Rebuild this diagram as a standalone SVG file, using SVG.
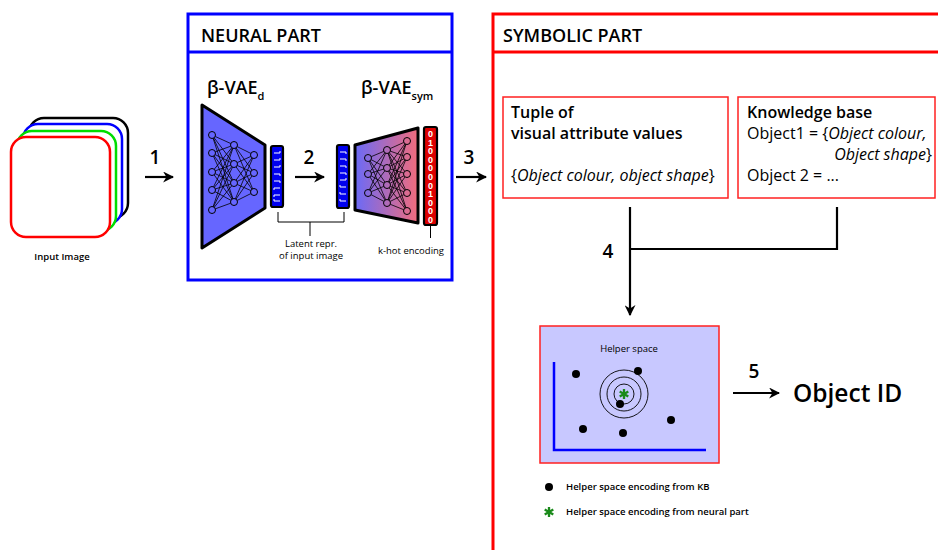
<svg xmlns="http://www.w3.org/2000/svg" width="938" height="550" viewBox="0 0 938 550">
  <defs>
    <style>
      text { font-family: "Open Sans", "Liberation Sans", sans-serif; fill: #000; }
      .hdr { font-size: 18px; font-weight: 600; }
      .step { font-size: 19px; font-weight: 600; text-anchor: middle; }
      .small { font-size: 9.5px; }
      .mid { font-size: 16px; }
      .sb { font-weight: 600; }
      .it { font-style: italic; }
      .vae { font-size: 18px; font-weight: 600; }
      .sub { font-size: 11px; font-weight: 600; }
      .edge { stroke: #000; stroke-width: 0.8; fill: none; }
      .nodeB { fill: #6666ff; stroke: #000; stroke-width: 1; }
      .nodeG { fill: url(#decGrad); stroke: #000; stroke-width: 1; }
      .arrow { stroke: #000; stroke-width: 2.2; fill: none; marker-end: url(#head); }
      .wire { stroke: #000; stroke-width: 2.2; fill: none; }
      .thin { stroke: #000; stroke-width: 1; fill: none; }
      .mark { stroke: #fff; stroke-width: 1; fill: none; }
      .bit { font-size: 9px; font-weight: 700; fill: #fff; text-anchor: middle; font-family: "Liberation Sans", sans-serif; }
      .dot { fill: #000; }
      .ring { stroke: #000; stroke-width: 0.9; fill: none; }
      .star { stroke: #1a8a1a; stroke-width: 2.3; fill: none; stroke-linecap: butt; }
    </style>
    <marker id="head" viewBox="0 0 10 10" refX="9" refY="5" markerWidth="5" markerHeight="5" markerUnits="strokeWidth" orient="auto">
      <path d="M0,0 L10,5 L0,10 L3,5 z" fill="#000"/>
    </marker>
    <linearGradient id="decGrad" gradientUnits="userSpaceOnUse" x1="355" y1="0" x2="418" y2="0">
      <stop offset="0" stop-color="#6a6af8"/>
      <stop offset="1" stop-color="#f26c7c"/>
    </linearGradient>
    <g id="asterisk">
      <path d="M0,-5 V5 M-4.3,-2.5 L4.3,2.5 M-4.3,2.5 L4.3,-2.5"/>
    </g>
  </defs>

  <rect width="938" height="550" fill="#fff"/>

  <!-- input image stack -->
  <g id="input-image">
    <rect x="29" y="118" width="99" height="100" rx="15" fill="#fff" stroke="#000" stroke-width="2.5"/>
    <rect x="23" y="124" width="99" height="100" rx="15" fill="#fff" stroke="#0000ff" stroke-width="2.5"/>
    <rect x="17" y="131" width="99" height="100" rx="15" fill="#fff" stroke="#00dd00" stroke-width="2.5"/>
    <rect x="11" y="137" width="99" height="100" rx="15" fill="#fff" stroke="#ff0000" stroke-width="2.5"/>
    <text x="62" y="260" class="small sb" text-anchor="middle">Input Image</text>
  </g>

  <!-- neural part frame -->
  <g id="neural-part">
    <rect x="188" y="14" width="264" height="266" fill="none" stroke="#0000ff" stroke-width="3"/>
    <line x1="188" y1="52" x2="452" y2="52" stroke="#0000ff" stroke-width="3"/>
    <text x="201" y="42" class="hdr">NEURAL PART</text>
  </g>

  <!-- encoder -->
  <g id="encoder">
    <text x="207" y="94" class="vae">β-VAE<tspan class="sub" dy="6">d</tspan></text>
    <path d="M202,105 L265,145 L265,208 L202,248 Z" fill="#6666ff" stroke="#000" stroke-width="3" stroke-linejoin="round"/>
    <g class="edge">
      <path d="M212,135 L234,145 M212,135 L234,164 M212,135 L234,183 M212,135 L234,202
               M212,153 L234,145 M212,153 L234,164 M212,153 L234,183 M212,153 L234,202
               M212,172 L234,145 M212,172 L234,164 M212,172 L234,183 M212,172 L234,202
               M212,190 L234,145 M212,190 L234,164 M212,190 L234,183 M212,190 L234,202
               M212,210 L234,145 M212,210 L234,164 M212,210 L234,183 M212,210 L234,202
               M234,145 L254,155 M234,145 L254,173 M234,145 L254,192
               M234,164 L254,155 M234,164 L254,173 M234,164 L254,192
               M234,183 L254,155 M234,183 L254,173 M234,183 L254,192
               M234,202 L254,155 M234,202 L254,173 M234,202 L254,192"/>
    </g>
    <circle class="nodeB" cx="212" cy="135" r="3.5"/>
    <circle class="nodeB" cx="212" cy="153" r="3.5"/>
    <circle class="nodeB" cx="212" cy="172" r="3.5"/>
    <circle class="nodeB" cx="212" cy="190" r="3.5"/>
    <circle class="nodeB" cx="212" cy="210" r="3.5"/>
    <circle class="nodeB" cx="234" cy="145" r="3.5"/>
    <circle class="nodeB" cx="234" cy="164" r="3.5"/>
    <circle class="nodeB" cx="234" cy="183" r="3.5"/>
    <circle class="nodeB" cx="234" cy="202" r="3.5"/>
    <circle class="nodeB" cx="254" cy="155" r="3.5"/>
    <circle class="nodeB" cx="254" cy="173" r="3.5"/>
    <circle class="nodeB" cx="254" cy="192" r="3.5"/>
  </g>

  <!-- latent vector (encoder output) -->
  <g id="latent-1">
    <rect x="271" y="146" width="12" height="61" rx="2" fill="#0000ee" stroke="#000" stroke-width="2.2"/>
    <path class="mark" d="M274,153 h6 v-2 M274,160 h6 v-2 M274,167 h6 v-2 M274,174 h6 v2 M274,181 h6 v2 M274,188 h6 M274,188 v2 M274,195 h6 M274,195 v2 M274,201 h6 M274,201 v-2"/>
  </g>

  <!-- latent vector (decoder input) -->
  <g id="latent-2">
    <rect x="337" y="145" width="12" height="63" rx="2" fill="#0000ee" stroke="#000" stroke-width="2.2"/>
    <path class="mark" d="M340,152 h6 v2 M340,159 h6 v2 M340,166 h6 v2 M340,173 h6 v2 M340,180 h6 v-2 M340,187 h6 M340,187 v-2 M340,194 h6 M340,194 v-2 M340,201 h6 M340,201 v-2"/>
  </g>

  <!-- decoder -->
  <g id="decoder">
    <text x="361" y="94" class="vae">β-VAE<tspan class="sub" dy="6">sym</tspan></text>
    <path d="M355,145 L418,128 L418,223 L355,210 Z" fill="url(#decGrad)" stroke="#000" stroke-width="3" stroke-linejoin="round"/>
    <g class="edge">
      <path d="M368,158 L387,150 M368,158 L387,168 M368,158 L387,185 M368,158 L387,203
               M368,174 L387,150 M368,174 L387,168 M368,174 L387,185 M368,174 L387,203
               M368,193 L387,150 M368,193 L387,168 M368,193 L387,185 M368,193 L387,203
               M387,150 L407,141 M387,150 L407,157 M387,150 L407,174 M387,150 L407,193 M387,150 L407,211
               M387,168 L407,141 M387,168 L407,157 M387,168 L407,174 M387,168 L407,193 M387,168 L407,211
               M387,185 L407,141 M387,185 L407,157 M387,185 L407,174 M387,185 L407,193 M387,185 L407,211
               M387,203 L407,141 M387,203 L407,157 M387,203 L407,174 M387,203 L407,193 M387,203 L407,211"/>
    </g>
    <circle class="nodeG" cx="368" cy="158" r="3.5"/>
    <circle class="nodeG" cx="368" cy="174" r="3.5"/>
    <circle class="nodeG" cx="368" cy="193" r="3.5"/>
    <circle class="nodeG" cx="387" cy="150" r="3.5"/>
    <circle class="nodeG" cx="387" cy="168" r="3.5"/>
    <circle class="nodeG" cx="387" cy="185" r="3.5"/>
    <circle class="nodeG" cx="387" cy="203" r="3.5"/>
    <circle class="nodeG" cx="407" cy="141" r="3.5"/>
    <circle class="nodeG" cx="407" cy="157" r="3.5"/>
    <circle class="nodeG" cx="407" cy="174" r="3.5"/>
    <circle class="nodeG" cx="407" cy="193" r="3.5"/>
    <circle class="nodeG" cx="407" cy="211" r="3.5"/>
  </g>

  <!-- k-hot output vector -->
  <g id="k-hot">
    <rect x="424" y="127" width="13" height="98" rx="2" fill="#dd0000" stroke="#000" stroke-width="2.2"/>
    <text class="bit" x="430.5" y="137">0</text>
    <text class="bit" x="430.5" y="145.6">1</text>
    <text class="bit" x="430.5" y="154.2">0</text>
    <text class="bit" x="430.5" y="162.8">0</text>
    <text class="bit" x="430.5" y="171.4">0</text>
    <text class="bit" x="430.5" y="180">0</text>
    <text class="bit" x="430.5" y="188.6">0</text>
    <text class="bit" x="430.5" y="197.2">1</text>
    <text class="bit" x="430.5" y="205.8">0</text>
    <text class="bit" x="430.5" y="214.4">0</text>
    <text class="bit" x="430.5" y="223">0</text>
  </g>

  <!-- symbolic part frame -->
  <g id="symbolic-part">
    <path d="M493,550 V14 H940" fill="none" stroke="#ff0000" stroke-width="3"/>
    <line x1="493" y1="52" x2="940" y2="52" stroke="#ff0000" stroke-width="3"/>
    <text x="503" y="42" class="hdr">SYMBOLIC PART</text>
  </g>

  <g id="tuple">
    <rect x="503" y="97" width="225" height="101" fill="#fff" stroke="#ff2020" stroke-width="1.5"/>
    <text x="511" y="118" class="mid sb">Tuple of</text>
    <text x="511" y="139" class="mid sb">visual attribute values</text>
    <text x="511" y="181" class="mid">{<tspan class="it">Object colour, object shape</tspan>}</text>
  </g>

  <g id="knowledge-base">
    <rect x="738" y="97" width="197" height="101" fill="#fff" stroke="#ff2020" stroke-width="1.5"/>
    <text x="747" y="118" class="mid sb">Knowledge base</text>
    <text x="747" y="139">
      <tspan class="mid">Object1 = {</tspan><tspan class="mid it">Object colour,</tspan>
    </text>
    <text x="932" y="160" class="mid" text-anchor="end"><tspan class="it">Object shape</tspan>}</text>
    <text x="747" y="181" class="mid">Object 2 = ...</text>
  </g>

  <g id="helper-space">
    <rect x="540" y="326" width="179" height="137" fill="#c8c8ff" stroke="#ff2020" stroke-width="1.5"/>
    <text x="629" y="352" class="small" text-anchor="middle">Helper space</text>
    <path d="M554,362 V450 H706" fill="none" stroke="#0000ff" stroke-width="2.5"/>
    <circle class="ring" cx="624" cy="394" r="10"/>
    <circle class="ring" cx="624" cy="394" r="17"/>
    <circle class="ring" cx="624" cy="394" r="24"/>
    <circle class="dot" cx="576" cy="374" r="4"/>
    <circle class="dot" cx="638" cy="371" r="4"/>
    <circle class="dot" cx="620" cy="404" r="4"/>
    <circle class="dot" cx="583" cy="429" r="4"/>
    <circle class="dot" cx="623" cy="433" r="4"/>
    <circle class="dot" cx="671" cy="420" r="4"/>
    <use href="#asterisk" x="624" y="394" class="star"/>
  </g>

  <g id="object-id">
    <text x="793" y="402" font-size="24.5" font-weight="600">Object ID</text>
  </g>

  <g id="legend">
    <circle class="dot" cx="549" cy="487" r="4"/>
    <text x="566" y="490" class="small sb">Helper space encoding from KB</text>
    <use href="#asterisk" x="549" y="512" class="star"/>
    <text x="566" y="515" class="small sb">Helper space encoding from neural part</text>
  </g>

  <!-- connectors and step labels -->
  <g id="connectors">
    <text x="155" y="164" class="step">1</text>
    <line class="arrow" x1="145" y1="177" x2="173" y2="177"/>

    <text x="309" y="164" class="step">2</text>
    <line class="arrow" x1="295" y1="177" x2="324" y2="177"/>

    <text x="469" y="164" class="step">3</text>
    <line class="arrow" x1="456" y1="177" x2="486" y2="177"/>

    <!-- latent bracket -->
    <path class="thin" d="M278,212 V222 H344 V212 M310,222 V236"/>
    <text x="311" y="247" class="small" text-anchor="middle">Latent repr.</text>
    <text x="311" y="259" class="small" text-anchor="middle">of input image</text>

    <!-- k-hot pointer -->
    <path class="thin" d="M430.5,226 V238"/>
    <text x="411" y="254" class="small" text-anchor="middle">k-hot encoding</text>

    <!-- merge into helper space -->
    <path class="wire" d="M837,207 V249 H630"/>
    <line class="arrow" x1="630" y1="207" x2="630" y2="315"/>
    <text x="608" y="258" class="step">4</text>

    <text x="754" y="378" class="step">5</text>
    <line class="arrow" x1="733" y1="393" x2="779" y2="393"/>
  </g>
</svg>
